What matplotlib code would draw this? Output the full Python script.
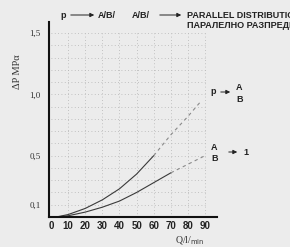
import matplotlib
matplotlib.use('Agg')
import matplotlib.pyplot as plt

# Flow Q (l/min) vs pressure drop (MPa)
q_pa_solid = [3, 10, 20, 30, 40, 50, 60]
dp_pa_solid = [0.0, 0.02, 0.07, 0.14, 0.23, 0.35, 0.50]
q_pa_dash = [60, 70, 80, 88]
dp_pa_dash = [0.50, 0.67, 0.82, 0.95]

q_ab_solid = [3, 10, 20, 30, 40, 50, 60, 70]
dp_ab_solid = [0.0, 0.01, 0.04, 0.08, 0.13, 0.20, 0.28, 0.36]
q_ab_dash = [70, 80, 90]
dp_ab_dash = [0.36, 0.43, 0.50]

x_ticks = [0, 10, 20, 30, 40, 50, 60, 70, 80, 90]
y_ticks = [0.1, 0.5, 1.0, 1.5]
y_tick_labels = ['0,1', '0,5', '1,0', '1,5']
grid_y = [0.1 * i for i in range(1, 16)]

W, H = 290, 247
BG = '#ececec'
NARROW = ['Liberation Sans Narrow', 'Liberation Sans', 'DejaVu Sans']
SERIF = ['Liberation Serif', 'DejaVu Serif']


def fx(px):
    return px / W


def fy(py):
    return 1 - py / H


fig = plt.figure(figsize=(W / 100, H / 100), dpi=100, facecolor=BG)
ax = fig.add_axes([fx(49), fy(217), fx(217) - fx(49), fy(22) - fy(217)])
ax.set_facecolor(BG)
ax.set_xlim(-1.2, 97)
ax.set_ylim(0, 1.59)

# dotted grid
ax.vlines(x_ticks[1:], 0, 1.5, colors='#b4b4b4', linestyles=(0, (1, 3)), lw=0.6)
ax.hlines(grid_y, 0, 90, colors='#b4b4b4', linestyles=(0, (1, 3)), lw=0.6)

ax.plot(q_pa_solid, dp_pa_solid, color='#3a3a3a', lw=0.8)
ax.plot(q_pa_dash, dp_pa_dash, color='#8a8a8a', lw=0.8, ls=(0, (3, 3)))
ax.plot(q_ab_solid, dp_ab_solid, color='#3a3a3a', lw=0.8)
ax.plot(q_ab_dash, dp_ab_dash, color='#8a8a8a', lw=0.8, ls=(0, (3, 3)))

for side in ['top', 'right']:
    ax.spines[side].set_visible(False)
for side in ['left', 'bottom']:
    ax.spines[side].set_linewidth(1.5)
    ax.spines[side].set_color('#111111')

ax.set_xticks(x_ticks)
ax.set_xticklabels([str(t) for t in x_ticks], family=NARROW, fontsize=7,
                   fontweight='bold', color='#222222')
ax.set_yticks(y_ticks)
ax.set_yticklabels(y_tick_labels, family=SERIF, fontsize=6.5, color='#333333')
ax.tick_params(length=0)
ax.tick_params(axis='x', pad=3)
ax.tick_params(axis='y', pad=6)

# axis titles
fig.text(fx(18), fy(72), 'ΔP MPα', rotation=90, ha='center', va='center',
         family=SERIF, fontsize=7.5, color='#333333')
fig.text(fx(190), fy(241), r'Q/l/$_{\rm min}$', ha='center', va='center',
         family=SERIF, fontsize=7, color='#333333')

# header
txt = dict(family=NARROW, fontsize=6.5, fontweight='bold', color='#222222',
           va='center')
arrow = dict(arrowstyle='-|>', lw=0.7, color='#222222', mutation_scale=6)
fig.text(fx(60), fy(15), 'p', **txt)
fig.patches.append(matplotlib.patches.FancyArrowPatch(
    (fx(68), fy(15)), (fx(97), fy(15)), transform=fig.transFigure, **arrow))
fig.text(fx(98), fy(15), 'A/B/', **txt)
fig.text(fx(132), fy(15), 'A/B/', **txt)
fig.patches.append(matplotlib.patches.FancyArrowPatch(
    (fx(157), fy(15)), (fx(184), fy(15)), transform=fig.transFigure, **arrow))
fig.text(fx(187), fy(15), 'PARALLEL DISTRIBUTION', **txt)
fig.text(fx(187), fy(25), 'ПАРАЛЕЛНО РАЗПРЕДЕЛЕНИЕ', **txt)

# curve labels
fig.text(fx(210), fy(92), 'p', **txt)
fig.patches.append(matplotlib.patches.FancyArrowPatch(
    (fx(218), fy(92)), (fx(233), fy(92)), transform=fig.transFigure, **arrow))
fig.text(fx(236), fy(87), 'A', **txt)
fig.text(fx(236), fy(99), 'B', **txt)

fig.text(fx(211), fy(147), 'A', **txt)
fig.text(fx(211), fy(158), 'B', **txt)
fig.patches.append(matplotlib.patches.FancyArrowPatch(
    (fx(226), fy(152)), (fx(240), fy(152)), transform=fig.transFigure, **arrow))
fig.text(fx(243), fy(152), '1', **txt)

fig.savefig('out.png', dpi=100, facecolor=BG)
